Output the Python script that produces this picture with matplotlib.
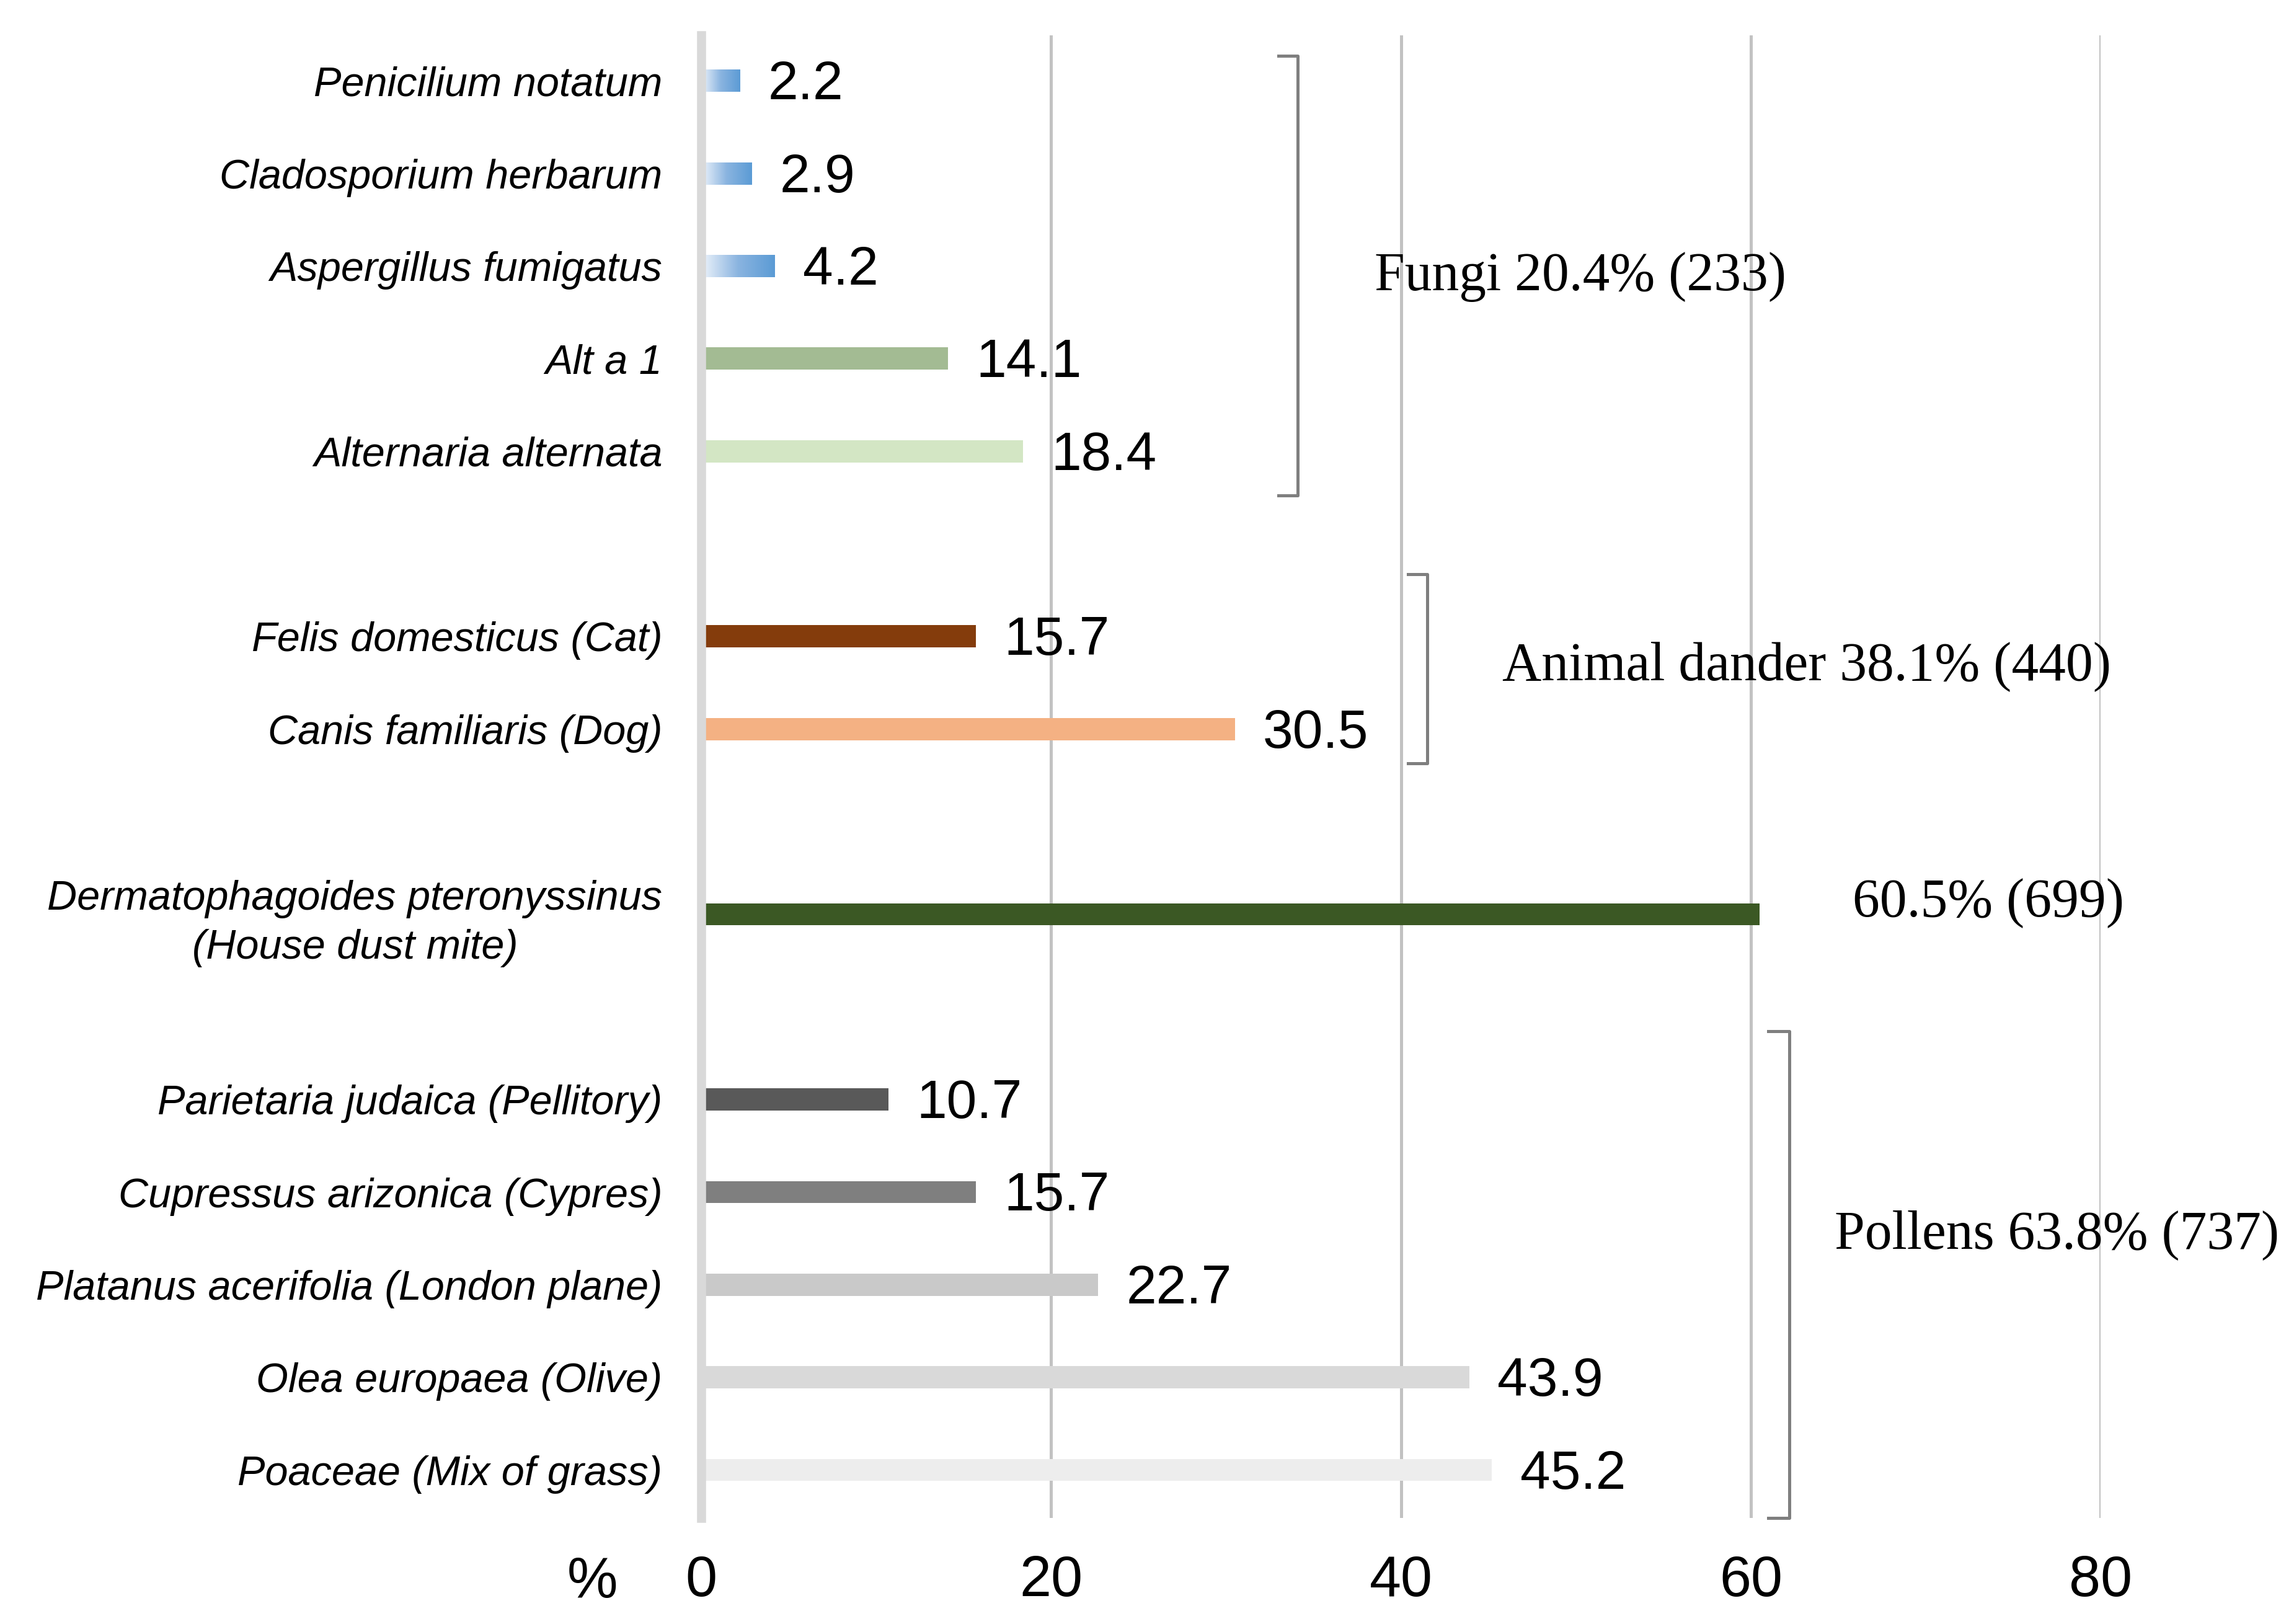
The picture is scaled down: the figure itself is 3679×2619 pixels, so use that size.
import numpy as np
import matplotlib.pyplot as plt
from matplotlib.colors import LinearSegmentedColormap

# allergen groups, top to bottom as drawn
fungi_labels = ["Penicilium notatum", "Cladosporium herbarum", "Aspergillus fumigatus",
                "Alt a 1", "Alternaria alternata"]
fungi_values = [2.2, 2.9, 4.2, 14.1, 18.4]
fungi_colors = ["grad", "grad", "grad", "#a3bb93", "#d3e6c4"]

animal_labels = ["Felis domesticus (Cat)", "Canis familiaris (Dog)"]
animal_values = [15.7, 30.5]
animal_colors = ["#843c0c", "#f4b183"]

mite_labels = ["Dermatophagoides pteronyssinus\n(House dust mite)"]
mite_values = [60.5]
mite_colors = ["#3b5824"]

pollen_labels = ["Parietaria judaica (Pellitory)", "Cupressus arizonica (Cypres)",
                 "Platanus acerifolia (London plane)", "Olea europaea (Olive)",
                 "Poaceae (Mix of grass)"]
pollen_values = [10.7, 15.7, 22.7, 43.9, 45.2]
pollen_colors = ["#595959", "#7f7f7f", "#c9c9c9", "#d9d9d9", "#ededed"]

group_texts = ["Fungi 20.4% (233)", "Animal dander 38.1% (440)", "60.5% (699)",
               "Pollens 63.8% (737)"]

groups = [(fungi_labels, fungi_values, fungi_colors, True),
          (animal_labels, animal_values, animal_colors, True),
          (mite_labels, mite_values, mite_colors, False),
          (pollen_labels, pollen_values, pollen_colors, True)]

labels, values, colors, pos, show = [], [], [], [], []
p = 0
for lab, val, col, lbl in groups:
    for l, v, c in zip(lab, val, col):
        labels.append(l)
        values.append(v)
        colors.append(c)
        pos.append(p)
        show.append(lbl)
        p += 1
    p += 1  # empty slot between groups

sans = "Liberation Sans"
serif = "Liberation Serif"

fig = plt.figure(figsize=(3679 / 300, 2619 / 300), dpi=300)
ax = fig.add_axes([0.3074, 0.0652, 0.6136, 0.913])

bh = 0.24
blue = LinearSegmentedColormap.from_list("blu", ["#eef4fb", "#8ab4e0", "#5b9bd5"])
grad = np.linspace(0, 1, 256).reshape(1, -1)
for y, v, c, s in zip(pos, values, colors, show):
    if c == "grad":
        ax.imshow(grad, cmap=blue, aspect="auto", extent=[0, v, y + bh / 2, y - bh / 2],
                  zorder=3, interpolation="bilinear")
    else:
        ax.barh(y, v, height=bh, color=c, zorder=3)
    if s:
        ax.text(v + 1.6, y + 0.05, f"{v}", ha="left", va="center", fontsize=21,
                family=sans, zorder=4)

ax.set_xlim(0, 80)
ax.set_ylim(15.52, -0.49)
ax.set_xticks([0, 20, 40, 60, 80])
ax.set_yticks(pos)
ax.set_yticklabels(labels, fontsize=16, family=sans, style="italic",
                   multialignment="center", linespacing=1.35)
for t in ax.get_xticklabels():
    t.set_fontsize(22)
    t.set_family(sans)
ax.tick_params(axis="both", length=0)
ax.tick_params(axis="y", pad=15)
ax.tick_params(axis="x", pad=14)

ax.grid(axis="x", color="#c2c2c2", linewidth=1.2, zorder=0)
for s in ["top", "right", "bottom"]:
    ax.spines[s].set_visible(False)
ax.spines["left"].set_color("#d9d9d9")
ax.spines["left"].set_linewidth(3.5)
ax.spines["left"].set_zorder(5)

# the "%" unit sits on the tick label row, left of 0
ax.annotate("%", xy=(-6.2, 0), xycoords=("data", "axes fraction"), xytext=(0, -14.5),
            textcoords="offset points", fontsize=22, family=sans, ha="center", va="top",
            annotation_clip=False)

# group brackets
brackets = [(33.0, 34.1, -0.27, 4.48), (40.4, 41.5, 5.33, 7.37), (61.0, 62.2, 10.26, 15.52)]
for x0, x1, y0, y1 in brackets:
    ax.plot([x0, x1, x1, x0], [y0, y0, y1, y1], color="#7f7f7f", linewidth=1.2,
            clip_on=False, zorder=2, solid_joinstyle="round")

text_pos = [(38.5, 2.12), (45.8, 6.32), (65.8, 8.88), (64.8, 12.46)]
for (x, y), t in zip(text_pos, group_texts):
    ax.text(x, y, t, ha="left", va="center", fontsize=21, family=serif, clip_on=False)

fig.savefig("out.png", dpi=300)
